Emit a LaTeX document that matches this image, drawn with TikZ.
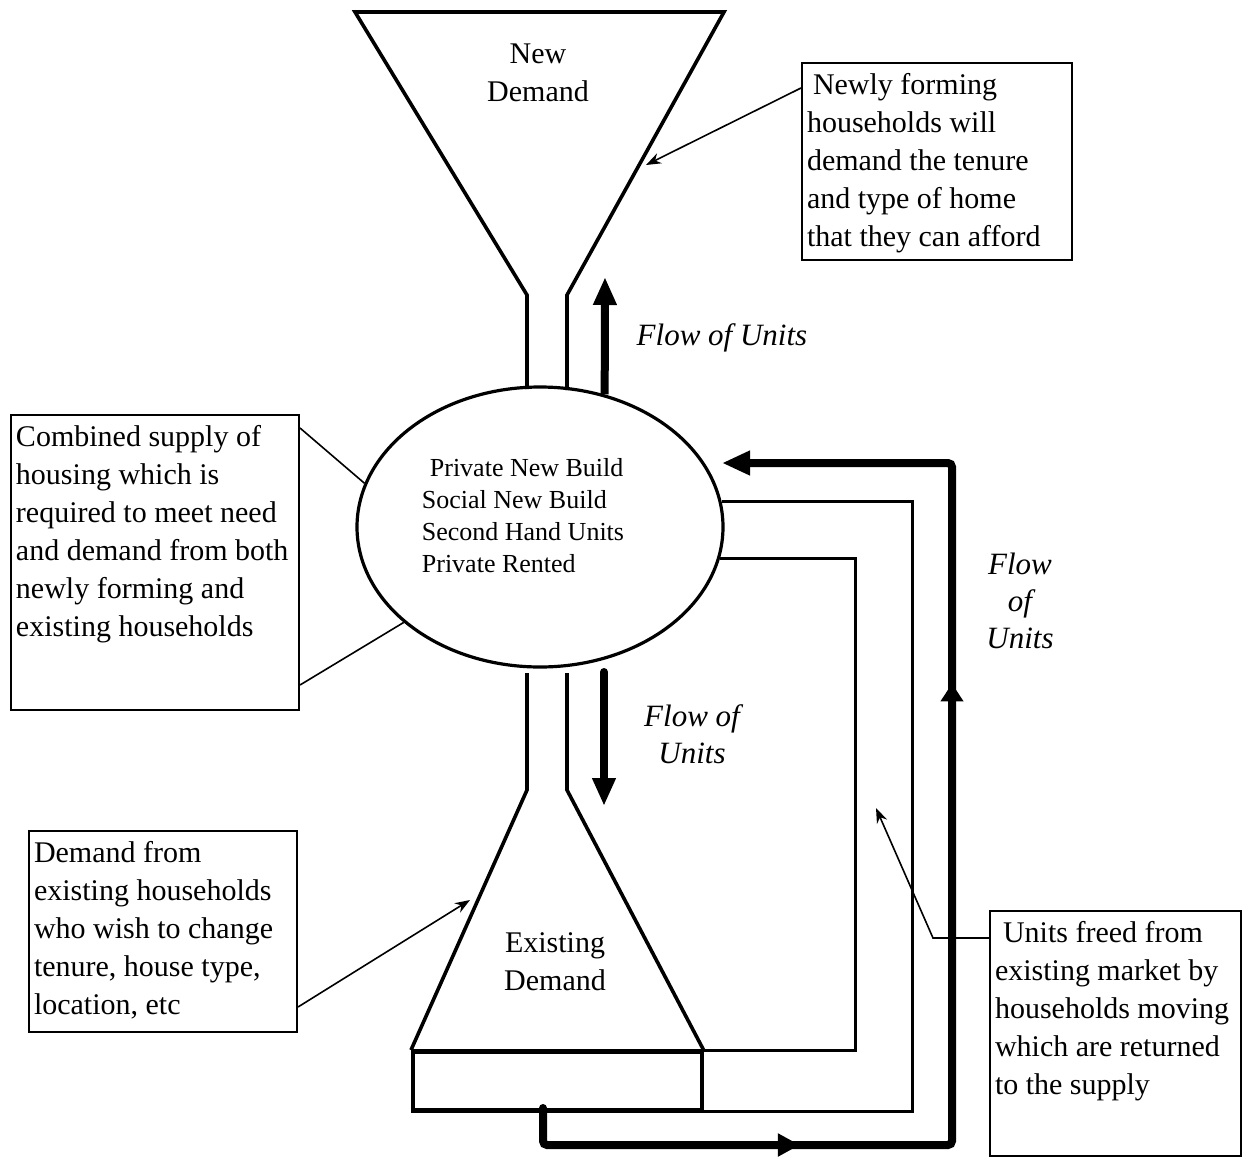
\documentclass[tikz,border=0pt]{standalone}
\usepackage{fontspec}
\setmainfont{Liberation Serif}
\usetikzlibrary{arrows.meta,positioning,shapes.geometric,decorations.markings}

\newcommand{\bodytext}{\fontsize{15}{19}\selectfont}
\newcommand{\hubtext}{\fontsize{13}{16}\selectfont}
\newcommand{\flowtext}{\fontsize{15.5}{18.5}\selectfont\itshape}
\newcommand{\notetext}[3]{\parbox[t][#1][t]{#2}{\raggedright\strut #3}}

\begin{document}
\begin{tikzpicture}[
  x=0.5pt,y=-0.5pt,
  font=\bodytext,
  outline/.style={line width=1.8pt},
  pipe/.style={line width=1.5pt},
  hub/.style={draw,ellipse,line width=1.6pt,minimum width=183pt,
              minimum height=140pt,inner sep=0pt},
  callout/.style={draw,line width=1pt,anchor=north west,inner sep=2.5pt,align=left},
  bigflow/.style={-{Triangle[length=14pt,width=11pt]},line width=4pt},
  note/.style={-{Stealth[length=7.5pt,width=5.5pt]},line width=0.8pt},
  lbl/.style={font=\flowtext,align=center,inner sep=0pt},
  returnflow/.style={-{Triangle[length=14pt,width=11.5pt]},line width=4pt,
    rounded corners=2pt,line cap=round,
    postaction={decorate,decoration={markings,
      mark=at position 146pt with {\arrow{Triangle[length=11pt,width=11pt]}},
      mark=at position 452pt with {\arrow{Triangle[length=9pt,width=11pt]}}}}},
]
  \useasboundingbox (0,0) rectangle (1243,1157);

  % supply in the middle
  \node[hub] (supply) at (540,527) {};
  \node[font=\hubtext,align=left,inner sep=0pt] (supplylist) at (523,516)
       {\hspace{4pt}Private New Build\\Social New Build\\Second Hand Units\\Private Rented};

  % new demand funnel
  \draw[outline] (527,389) -- (527,295) -- (355,12) -- (724,12) -- (567,295) -- (567,390);
  \node[align=center,inner sep=0pt] (newlbl) at (538,73) {New\\Demand};

  % existing demand funnel and base
  \node[draw,outline,anchor=north west,minimum width=144.5pt,minimum height=29pt,
        inner sep=0pt] (base) at (411,1050) {};
  \draw[outline] (527,673) -- (527,790) -- (base.north west);
  \draw[outline] (567,673) -- (567,790) -- (base.north east);
  \node[align=center,inner sep=0pt] (exlbl) at (555,962) {Existing\\Demand};

  % units returned to supply
  \coordinate (outer) at (912,1108);
  \coordinate (inner) at (855,1050);
  \draw[pipe] (supply.8) -| (outer) |- (base.south west);
  \draw[pipe] (supply.-10) -| (inner) |- (base.north west);

  \coordinate (loopStart) at (543,1108);
  \coordinate (loopCorner) at (952,1145);
  \coordinate (loopEnd) at (722,463);
  \draw[returnflow] (loopStart) |- (loopCorner) |- (loopEnd);

  % flow arrows
  \coordinate (upTip) at (605,277);
  \coordinate (downStart) at (604,672);
  \coordinate (downTip) at (604,806);
  \draw[bigflow] (supply.64) -- (upTip);
  \draw[bigflow,line cap=round] (downStart) -- (downTip);

  \node[lbl] (flowup) at (722,338) {Flow of Units};
  \node[lbl] (flowdown) at (692,734) {Flow of\\Units};
  \node[lbl] (flowback) at (1020,601) {Flow\\of\\Units};

  % callout boxes
  \node[callout] (newbox) at (801,62) {\notetext{93.5pt}{130pt}{\hspace{3pt}Newly forming\\
    households will\\demand the tenure\\and type of home\\that they can afford}};
  \node[callout] (combbox) at (10,414) {\notetext{142.5pt}{139pt}{Combined supply of\\
    housing which is\\required to meet need\\and demand from both\\newly forming and\\
    existing households}};
  \node[callout] (exbox) at (28,830) {\notetext{95.5pt}{129pt}{Demand from\\
    existing households\\who wish to change\\tenure, house type,\\location, etc}};
  \node[callout] (freebox) at (989,910) {\notetext{117.5pt}{120.5pt}{\hspace{4pt}Units freed from\\
    existing market by\\households moving\\which are returned\\to the supply}};

  \coordinate (newTip) at (646,165);
  \coordinate (exTip) at (470,900);
  \coordinate (freeBend) at (933,938);
  \coordinate (freeTip) at (876,808);
  \draw[note] ([yshift=-13pt]newbox.north west) -- (newTip);
  \draw[line width=0.8pt] ([yshift=-7pt]combbox.north east) -- (supply.166);
  \draw[line width=0.8pt] ([yshift=13pt]combbox.south east) -- (supply.215);
  \draw[note] ([yshift=13pt]exbox.south east) -- (exTip);
  \draw[note] ([yshift=-14pt]freebox.north west) -- (freeBend) -- (freeTip);
\end{tikzpicture}
\end{document}
